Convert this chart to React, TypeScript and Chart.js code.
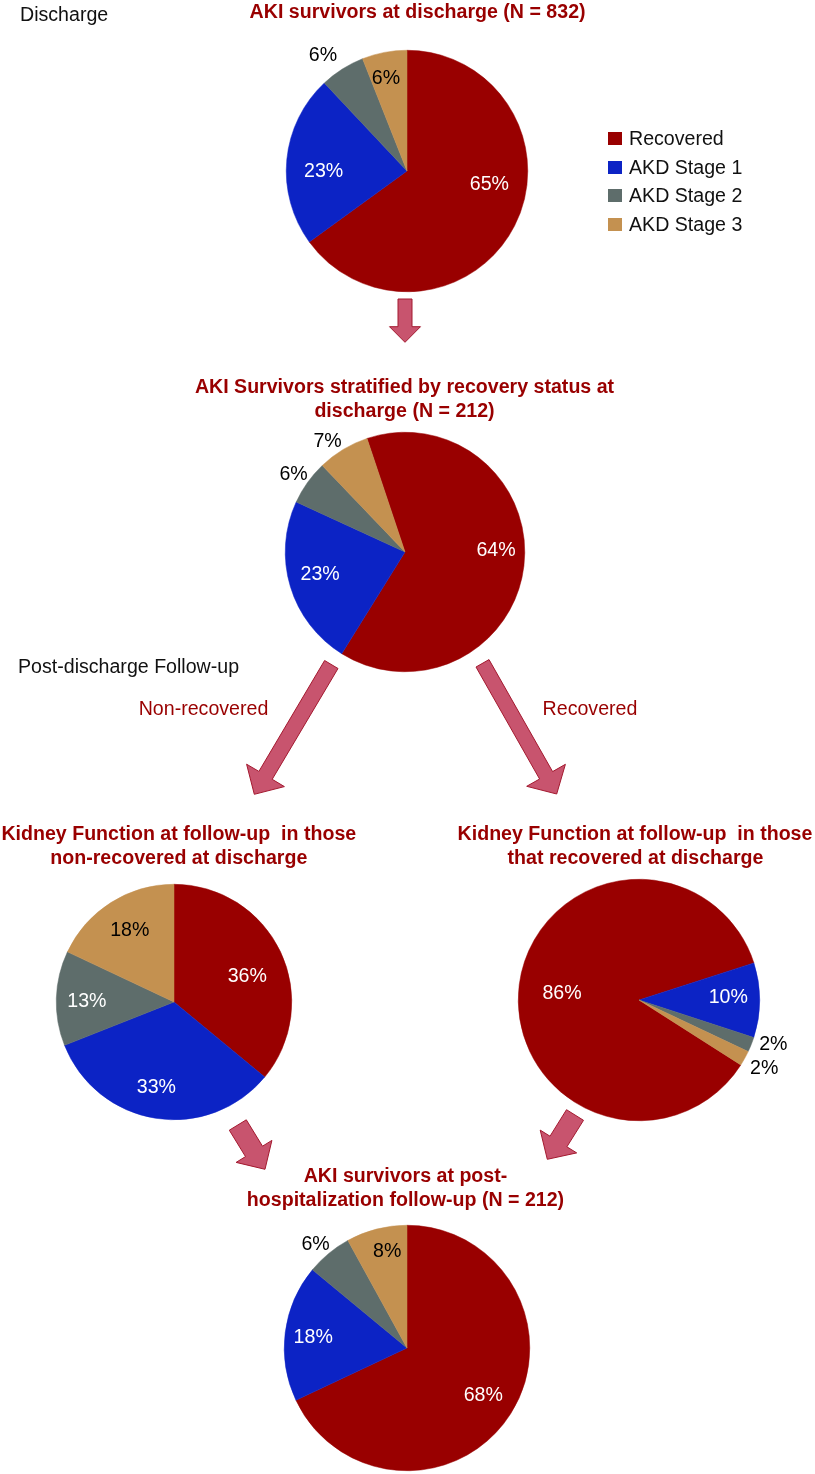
import React, { useEffect, useRef } from 'react';
import { Chart, registerables } from 'chart.js';

Chart.register(...registerables);

// ---------- data ----------
const categories = ['Recovered', 'AKD Stage 1', 'AKD Stage 2', 'AKD Stage 3'];
const dischargeAll = [65, 23, 6, 6];
const dischargeStratified = [64, 23, 6, 7];
const followUpNonRecovered = [36, 33, 13, 18];
const followUpRecovered = [86, 10, 2, 2];
const followUpAll = [68, 18, 6, 8];

// ---------- styles ----------
const sliceColors = ['#990000', '#0c23c5', '#5e6d6b', '#c49150'];
const titleRed = '#990000';
const FONT = '"Liberation Sans", Arial, Helvetica, sans-serif';
const FS = 19.6;

type Placement = [number, number, string]; // radius fraction, angle offset (deg), colour

interface PieSpec {
  values: number[];
  cx: number;
  cy: number;
  r: number;
  rotation: number;
  placement: Placement[];
}

const pies: PieSpec[] = [
  {
    values: dischargeAll, cx: 407, cy: 171, r: 121, rotation: 0,
    placement: [[0.69, -18.4, '#fff'], [0.69, -5.4, '#fff'], [1.19, -3.4, '#000'], [0.79, -1.9, '#000']],
  },
  {
    values: dischargeStratified, cx: 404.5, cy: 552, r: 120, rotation: -18.5,
    placement: [[0.76, -8, '#fff'], [0.73, 2.7, '#fff'], [1.14, -0.2, '#000'], [1.135, -3.6, '#000']],
  },
  {
    values: followUpNonRecovered, cx: 173.5, cy: 1002, r: 118, rotation: 0,
    placement: [[0.66, 5.7, '#fff'], [0.73, 2.8, '#fff'], [0.74, -1.1, '#fff'], [0.72, 1, '#000']],
  },
  {
    values: followUpRecovered, cx: 638.5, cy: 1000, r: 121, rotation: 122.5,
    placement: [[0.64, -2.1, '#fff'], [0.74, -2, '#fff'], [1.17, -3.6, '#000'], [1.18, -0.4, '#000']],
  },
  {
    values: followUpAll, cx: 407, cy: 1348, r: 123, rotation: 0,
    placement: [[0.73, -0.7, '#fff'], [0.77, 0, '#fff'], [1.13, -1.6, '#000'], [0.81, 2.9, '#000']],
  },
];

function makeLabelPlugin(placement: Placement[]) {
  return {
    id: 'sliceLabels',
    afterDatasetsDraw(chart: any) {
      const ctx = chart.ctx;
      const meta = chart.getDatasetMeta(0);
      const vals = chart.data.datasets[0].data;
      ctx.save();
      ctx.font = `${FS}px ${FONT}`;
      ctx.textAlign = 'center';
      ctx.textBaseline = 'middle';
      meta.data.forEach((arc: any, i: number) => {
        const p = arc.getProps(['x', 'y', 'startAngle', 'endAngle', 'outerRadius'], true);
        const [f, off, color] = placement[i];
        const a = (p.startAngle + p.endAngle) / 2 + (off * Math.PI) / 180;
        const px = p.x + Math.cos(a) * p.outerRadius * f;
        const py = p.y + Math.sin(a) * p.outerRadius * f;
        ctx.fillStyle = color;
        ctx.fillText(`${vals[i]}%`, px, py + 1);
      });
      ctx.restore();
    },
  };
}

function PieChart({ spec }: { spec: PieSpec }) {
  const ref = useRef<HTMLCanvasElement>(null);
  const P = 50;
  const size = Math.round(2 * spec.r + 2 * P);
  useEffect(() => {
    const chart = new Chart(ref.current as HTMLCanvasElement, {
      type: 'pie',
      data: {
        labels: categories,
        datasets: [
          {
            data: spec.values,
            backgroundColor: sliceColors,
            borderColor: sliceColors,
            borderWidth: 0.5,
            hoverOffset: 0,
          },
        ],
      },
      options: {
        responsive: false,
        maintainAspectRatio: false,
        animation: false,
        rotation: spec.rotation,
        events: [],
        layout: { padding: P },
        plugins: { legend: { display: false }, tooltip: { enabled: false }, title: { display: false } },
      } as any,
      plugins: [makeLabelPlugin(spec.placement)],
    });
    return () => chart.destroy();
  }, []);
  return (
    <canvas
      ref={ref}
      width={size}
      height={size}
      style={{ position: 'absolute', left: spec.cx - size / 2, top: spec.cy - size / 2, width: size, height: size }}
    />
  );
}

function Text({ text, x, y, align = 'center', bold = false, color = '#111' }: any) {
  const style: React.CSSProperties = {
    position: 'absolute',
    top: y - 12,
    lineHeight: '24px',
    fontSize: FS,
    fontFamily: FONT,
    fontWeight: bold ? 'bold' : 'normal',
    color,
    whiteSpace: 'pre',
  };
  if (align === 'center') {
    style.left = x - 400;
    style.width = 800;
    style.textAlign = 'center';
  } else {
    style.left = x;
  }
  return <div style={style}>{text}</div>;
}

interface ArrowSpec { tail: [number, number]; tip: [number, number]; sw: number; hw: number; hl: number }
const arrows: ArrowSpec[] = [
  { tail: [405, 299], tip: [405, 342.3], sw: 14, hw: 31, hl: 15.6 },
  { tail: [331.3, 664.5], tip: [254.3, 794.3], sw: 15.5, hw: 44, hl: 22 },
  { tail: [482.5, 663.3], tip: [556.7, 794], sw: 15, hw: 44.5, hl: 21.5 },
  { tail: [237.8, 1125], tip: [265, 1169.3], sw: 20, hw: 42, hl: 21 },
  { tail: [575, 1115], tip: [547.3, 1159.3], sw: 20, hw: 43, hl: 21 },
];

function arrowPoints(a: ArrowSpec) {
  const [tx, ty] = a.tail;
  const [hx, hy] = a.tip;
  const dx = hx - tx, dy = hy - ty;
  const L = Math.hypot(dx, dy);
  const ux = dx / L, uy = dy / L;
  const nx = -uy, ny = ux;
  const bx = hx - ux * a.hl, by = hy - uy * a.hl;
  const pts = [
    [tx + (nx * a.sw) / 2, ty + (ny * a.sw) / 2],
    [bx + (nx * a.sw) / 2, by + (ny * a.sw) / 2],
    [bx + (nx * a.hw) / 2, by + (ny * a.hw) / 2],
    [hx, hy],
    [bx - (nx * a.hw) / 2, by - (ny * a.hw) / 2],
    [bx - (nx * a.sw) / 2, by - (ny * a.sw) / 2],
    [tx - (nx * a.sw) / 2, ty - (ny * a.sw) / 2],
  ];
  return pts.map((p) => `${p[0].toFixed(1)},${p[1].toFixed(1)}`).join(' ');
}

export default function App() {
  const legendRows = [138, 166.5, 195, 223.5];
  return (
    <div style={{ position: 'absolute', left: 0, top: 0, width: 815, height: 1474, background: '#fff', overflow: 'hidden' }}>
      {pies.map((p, i) => (
        <PieChart key={i} spec={p} />
      ))}
      <svg width={815} height={1474} style={{ position: 'absolute', left: 0, top: 0 }}>
        {arrows.map((a, i) => (
          <polygon key={i} points={arrowPoints(a)} fill="#c8546e" stroke="#a3192f" strokeWidth={1} strokeLinejoin="miter" />
        ))}
      </svg>

      <Text text="Discharge" x={20} y={13.5} align="left" />
      <Text text="AKI survivors at discharge (N = 832)" x={417.6} y={11} bold color={titleRed} />

      {categories.map((c, i) => (
        <React.Fragment key={c}>
          <div
            style={{
              position: 'absolute',
              left: 608,
              top: legendRows[i] - 6,
              width: 14,
              height: 13,
              background: sliceColors[i],
            }}
          />
          <Text text={c} x={629} y={legendRows[i]} align="left" />
        </React.Fragment>
      ))}

      <Text text="AKI Survivors stratified by recovery status at" x={404.5} y={386} bold color={titleRed} />
      <Text text="discharge (N = 212)" x={404.5} y={410} bold color={titleRed} />

      <Text text="Post-discharge Follow-up" x={18} y={665.5} align="left" />
      <Text text="Non-recovered" x={203.5} y={707.5} color={titleRed} />
      <Text text="Recovered" x={590} y={707.5} color={titleRed} />

      <Text text="Kidney Function at follow-up  in those" x={178.8} y={833} bold color={titleRed} />
      <Text text="non-recovered at discharge" x={178.8} y={857} bold color={titleRed} />
      <Text text="Kidney Function at follow-up  in those" x={635} y={833} bold color={titleRed} />
      <Text text="that recovered at discharge" x={635.5} y={857} bold color={titleRed} />

      <Text text="AKI survivors at post-" x={405.5} y={1175} bold color={titleRed} />
      <Text text="hospitalization follow-up (N = 212)" x={405.5} y={1199} bold color={titleRed} />
    </div>
  );
}
